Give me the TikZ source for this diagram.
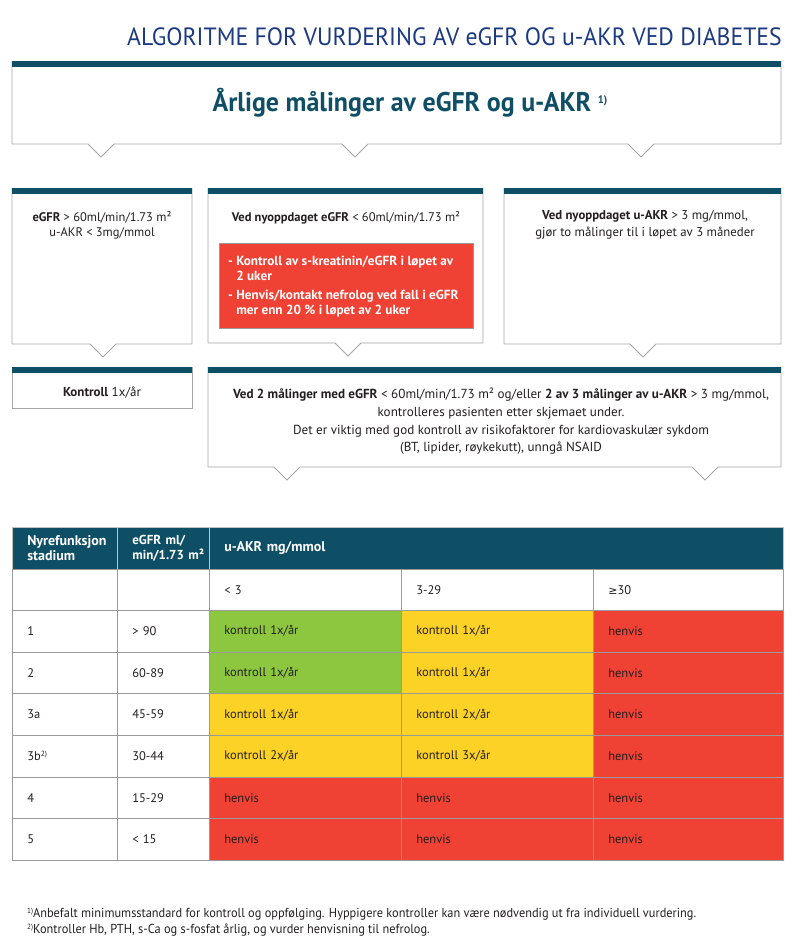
\documentclass[tikz,border=0pt]{standalone}
\usepackage{fontspec}
\setmainfont{PT Sans}
\newfontfamily\signfont{DejaVu Sans}
\usepackage{tikz}

\definecolor{bandteal}{HTML}{0F4F66}
\definecolor{titleblue}{HTML}{1C3A82}
\definecolor{alertred}{HTML}{EF4134}
\definecolor{okgreen}{HTML}{8DC63F}
\definecolor{warnyellow}{HTML}{FDD227}
\definecolor{gridgray}{HTML}{9A9A9A}
\definecolor{boxgray}{HTML}{A6A6A6}
\definecolor{inkgray}{HTML}{231F20}

\newcommand{\fnmark}[1]{\raisebox{0.6ex}{\fontsize{7.5}{8}\selectfont #1}}
% callout box: left, top, right, bottom, notch positions
\newcommand{\callout}[5]{%
	\draw[boxline] (#1,#2) -- (#1,#4)
		foreach \nx in {#5}{ -- ({\nx-13},#4) -- (\nx,{#4+13}) -- ({\nx+13},#4)}
		-- (#3,#4) -- (#3,#2);
	\fill[bandteal] (#1,#2) rectangle (#3,{#2+6});
}

\begin{document}
\begin{tikzpicture}[x=1pt, y=-1pt,
	boxline/.style={draw=boxgray, line width=0.8pt, fill=white},
	boxtext/.style={inner sep=0pt, text=inkgray, align=center, font=\fontsize{12.5}{15}\selectfont},
	cell/.style={draw=gridgray, line width=0.6pt, rectangle, anchor=north west, minimum height=41.67pt, inner xsep=15pt, inner ysep=0pt, align=left, text=inkgray, font=\fontsize{12.5}{15}\selectfont},
	hdr/.style={cell, fill=bandteal, draw=gridgray!60, text=white, minimum height=42pt, font=\fontsize{14}{15.5}\selectfont\bfseries}]
	\useasboundingbox (0,0) rectangle (800,949);
	
	\node[anchor=base east, inner sep=0pt, xscale=0.95, text=titleblue, font=\fontsize{25}{28}\selectfont] (title) at (782,46) {ALGORITME FOR VURDERING AV eGFR OG u-AKR VED DIABETES};
	
	% top box
	\callout{12}{61}{781}{144}{101,355,641}
	\node[anchor=base, inner sep=0pt, xscale=0.96, text=bandteal, font=\fontsize{27}{30}\selectfont\bfseries] (yearly) at (410,112) {Årlige målinger av eGFR og u-AKR \fnmark{\fontsize{11}{12}\selectfont 1)}};
	
	% second row
	\callout{12}{188}{192}{344}{103}
	\callout{208}{188}{483}{343}{348}
	\callout{504}{188}{781}{344}{643}
	\node[boxtext, anchor=north] (normal) at (102,211) {\textbf{eGFR} > 60ml/min/1.73 m²\\u-AKR < 3mg/mmol};
	\node[boxtext, anchor=north] (newgfr) at (346,211) {\textbf{Ved nyoppdaget eGFR} < 60ml/min/1.73 m²};
	\node[draw=gridgray, fill=alertred, anchor=north west, minimum width=254pt, minimum height=85pt] (urgent) at (219,243) {};
	\node[boxtext, anchor=north west, align=left, text=white, font=\fontsize{13.2}{15}\selectfont\bfseries] (urgenttext) at (228,256)
		{- Kontroll av s-kreatinin/eGFR i løpet av\\\hphantom{- }2 uker\\[4pt]- Henvis/kontakt nefrolog ved fall i eGFR\\\hphantom{- }mer enn 20 \% i løpet av 2 uker};
	\node[boxtext, anchor=north, font=\fontsize{12.8}{17.5}\selectfont] (newakr) at (645,210) {\textbf{Ved nyoppdaget u-AKR} > 3 mg/mmol,\\gjør to målinger til i løpet av 3 måneder};
	
	% third row
	\draw[boxline] (12,367) rectangle (192,408);
	\fill[bandteal] (12,367) rectangle (192,373);
	\callout{208}{367}{781}{467}{287,705}
	\node[boxtext, anchor=north, font=\fontsize{13}{15}\selectfont] (yearly1) at (102,387) {\textbf{Kontroll} 1x/år};
	\node[boxtext, anchor=north, font=\fontsize{13.1}{17.7}\selectfont] (followup) at (501,388)
		{\textbf{Ved 2 målinger med eGFR} < 60ml/min/1.73 m² og/eller \textbf{2 av 3 målinger av u-AKR} > 3 mg/mmol,\\kontrolleres pasienten etter skjemaet under.\\Det er viktig med god kontroll av risikofaktorer for kardiovaskulær sykdom\\(BT, lipider, røykekutt), unngå NSAID};
	
	% table
	\node[hdr, text width=75pt] (hstage) at (12,527) {Nyrefunksjon\\stadium};
	\node[hdr, text width=62pt, font=\fontsize{13}{15.5}\selectfont\bfseries] (hgfr) at (117,527) {eGFR ml/\\min/1.73~m²};
	\node[hdr, text width=544pt] (hakr) at (209,527) {u-AKR mg/mmol};
	\node[cell, text width=75pt, minimum height=41pt] (sstage) at (12,569) {};
	\node[cell, text width=62pt, minimum height=41pt] (sgfr) at (117,569) {};
	\node[cell, text width=162pt, minimum height=41pt] (slow) at (209,569) {< 3};
	\node[cell, text width=162pt, minimum height=41pt] (smid) at (401,569) {3-29};
	\node[cell, text width=160pt, minimum height=41pt] (shigh) at (593,569) {{\signfont\fontsize{11}{13}\selectfont ≥}30};
	
	\foreach \stg/\gfr/\fA/\tA/\fB/\tB/\fC/\tC [count=\i] in {
		1/{> 90}/okgreen/{kontroll 1x/år}/warnyellow/{kontroll 1x/år}/alertred/henvis,
		2/60-89/okgreen/{kontroll 1x/år}/warnyellow/{kontroll 1x/år}/alertred/henvis,
		3a/45-59/warnyellow/{kontroll 1x/år}/warnyellow/{kontroll 2x/år}/alertred/henvis,
		{3b\fnmark{2)}}/30-44/warnyellow/{kontroll 2x/år}/warnyellow/{kontroll 3x/år}/alertred/henvis,
		4/15-29/alertred/henvis/alertred/henvis/alertred/henvis,
		5/{< 15}/alertred/henvis/alertred/henvis/alertred/henvis}{
		\pgfmathsetmacro\rtop{610+(\i-1)*41.67}
		\node[cell, text width=75pt] (st\i) at (12,\rtop) {\stg};
		\node[cell, text width=62pt] (gf\i) at (117,\rtop) {\gfr};
		\node[cell, text width=162pt, fill=\fA] (ca\i) at (209,\rtop) {\tA};
		\node[cell, text width=162pt, fill=\fB] (cb\i) at (401,\rtop) {\tB};
		\node[cell, text width=160pt, fill=\fC] (cc\i) at (593,\rtop) {\tC};
	}
	
	% footnotes
	\node[anchor=base west, inner sep=0pt, xscale=0.95, text=inkgray, font=\fontsize{13}{15}\selectfont] (note1) at (27,917) {\fnmark{1)}Anbefalt minimumsstandard for kontroll og oppfølging. Hyppigere kontroller kan være nødvendig ut fra individuell vurdering.};
	\node[anchor=base west, inner sep=0pt, xscale=0.95, text=inkgray, font=\fontsize{13}{15}\selectfont] (note2) at (27,933) {\fnmark{2)}Kontroller Hb, PTH, s-Ca og s-fosfat årlig, og vurder henvisning til nefrolog.};
\end{tikzpicture}
\end{document}
